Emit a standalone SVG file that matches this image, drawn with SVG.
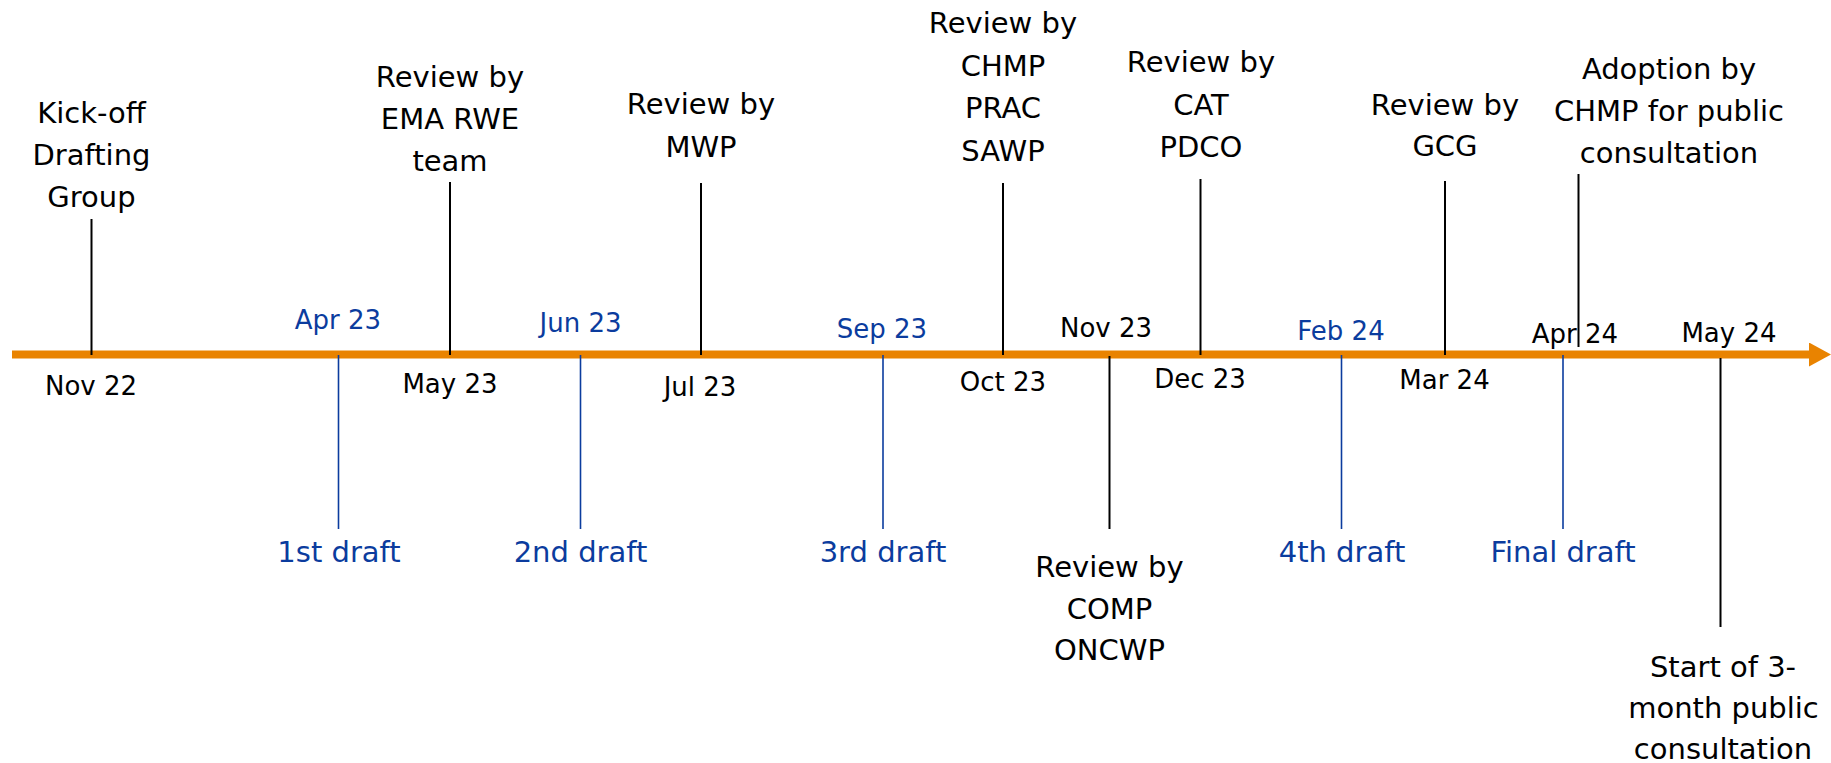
<svg xmlns="http://www.w3.org/2000/svg" width="1831" height="763" viewBox="0 0 1831 763">
  <style>
    text { font-family: "DejaVu Sans", Verdana, sans-serif; text-anchor: middle; }
    .lbl { font-size: 29px; fill: #000000; }
    .date { font-size: 26px; fill: #000000; }
    .bdate { font-size: 26px; fill: #0B3C9E; }
    .draft { font-size: 29px; fill: #0B3C9E; }
    .tick { stroke: #000000; stroke-width: 2; fill: none; }
    .btick { stroke: #0B3C9E; stroke-width: 1.6; fill: none; }
    .axis { stroke: #E98300; stroke-width: 8; fill: none; }
  </style>
  <defs>
    <marker id="axisHead" markerUnits="userSpaceOnUse" markerWidth="22" markerHeight="24" refX="2" refY="12" orient="auto">
      <polygon points="0,0 22,12 0,24" fill="#E98300"/>
    </marker>
  </defs>
  <rect width="1831" height="763" fill="#FFFFFF"/>

  <!-- time axis and tick lines -->
  <g id="connectors">
    <line class="axis" x1="12" y1="354.5" x2="1811" y2="354.5" marker-end="url(#axisHead)"/>
    <!-- milestones above the axis -->
    <line class="tick" x1="91.5" y1="219" x2="91.5" y2="355"/>
    <line class="tick" x1="450" y1="182" x2="450" y2="355"/>
    <line class="tick" x1="701" y1="183" x2="701" y2="355"/>
    <line class="tick" x1="1003" y1="183" x2="1003" y2="355"/>
    <line class="tick" x1="1200.5" y1="179" x2="1200.5" y2="355"/>
    <line class="tick" x1="1445" y1="181" x2="1445" y2="355"/>
    <line class="tick" x1="1578.5" y1="174" x2="1578.5" y2="347"/>
    <!-- draft versions below the axis -->
    <line class="btick" x1="338.5" y1="355" x2="338.5" y2="529"/>
    <line class="btick" x1="580.5" y1="355" x2="580.5" y2="529"/>
    <line class="btick" x1="883" y1="355" x2="883" y2="529"/>
    <line class="btick" x1="1341.5" y1="355" x2="1341.5" y2="529"/>
    <line class="btick" x1="1563" y1="355" x2="1563" y2="529"/>
    <!-- milestones below the axis -->
    <line class="tick" x1="1109.5" y1="356" x2="1109.5" y2="529"/>
    <line class="tick" x1="1720.5" y1="358" x2="1720.5" y2="627"/>
  </g>

  <g id="kickoff">
    <text class="lbl" x="91.5" y="123">Kick-off</text>
    <text class="lbl" x="91.5" y="165">Drafting</text>
    <text class="lbl" x="91.5" y="207">Group</text>
    <text class="date" x="91" y="395">Nov 22</text>
  </g>

  <g id="draft1">
    <text class="bdate" x="338" y="329">Apr 23</text>
    <text class="draft" x="339" y="562">1st draft</text>
  </g>

  <g id="review-ema-rwe">
    <text class="lbl" x="450" y="87">Review by</text>
    <text class="lbl" x="450" y="129">EMA RWE</text>
    <text class="lbl" x="450" y="171">team</text>
    <text class="date" x="450" y="393">May 23</text>
  </g>

  <g id="draft2">
    <text class="bdate" x="580.5" y="332">Jun 23</text>
    <text class="draft" x="580.5" y="562">2nd draft</text>
  </g>

  <g id="review-mwp">
    <text class="lbl" x="701" y="114">Review by</text>
    <text class="lbl" x="701" y="157">MWP</text>
    <text class="date" x="700" y="396">Jul 23</text>
  </g>

  <g id="draft3">
    <text class="bdate" x="882" y="338">Sep 23</text>
    <text class="draft" x="883" y="562">3rd draft</text>
  </g>

  <g id="review-chmp-prac-sawp">
    <text class="lbl" x="1003" y="33">Review by</text>
    <text class="lbl" x="1003" y="75.5">CHMP</text>
    <text class="lbl" x="1003" y="118">PRAC</text>
    <text class="lbl" x="1003" y="160.5">SAWP</text>
    <text class="date" x="1003" y="391">Oct 23</text>
  </g>

  <g id="review-comp-oncwp">
    <text class="date" x="1106" y="337">Nov 23</text>
    <text class="lbl" x="1109.5" y="577">Review by</text>
    <text class="lbl" x="1109.5" y="618.5">COMP</text>
    <text class="lbl" x="1109.5" y="660">ONCWP</text>
  </g>

  <g id="review-cat-pdco">
    <text class="lbl" x="1201" y="72">Review by</text>
    <text class="lbl" x="1201" y="114.5">CAT</text>
    <text class="lbl" x="1201" y="157">PDCO</text>
    <text class="date" x="1200" y="388">Dec 23</text>
  </g>

  <g id="draft4">
    <text class="bdate" x="1341" y="340">Feb 24</text>
    <text class="draft" x="1342" y="562">4th draft</text>
  </g>

  <g id="review-gcg">
    <text class="lbl" x="1445" y="115">Review by</text>
    <text class="lbl" x="1445" y="156">GCG</text>
    <text class="date" x="1444.5" y="389">Mar 24</text>
  </g>

  <g id="final-draft">
    <text class="date" x="1575" y="343">Apr 24</text>
    <text class="draft" x="1563" y="562">Final draft</text>
  </g>

  <g id="adoption-chmp">
    <text class="lbl" x="1669" y="79">Adoption by</text>
    <text class="lbl" x="1669" y="121">CHMP for public</text>
    <text class="lbl" x="1669" y="163">consultation</text>
  </g>

  <g id="public-consultation">
    <text class="date" x="1729" y="342">May 24</text>
    <text class="lbl" x="1723" y="677">Start of 3-</text>
    <text class="lbl" x="1723.5" y="718">month public</text>
    <text class="lbl" x="1723" y="758.5">consultation</text>
  </g>
</svg>
